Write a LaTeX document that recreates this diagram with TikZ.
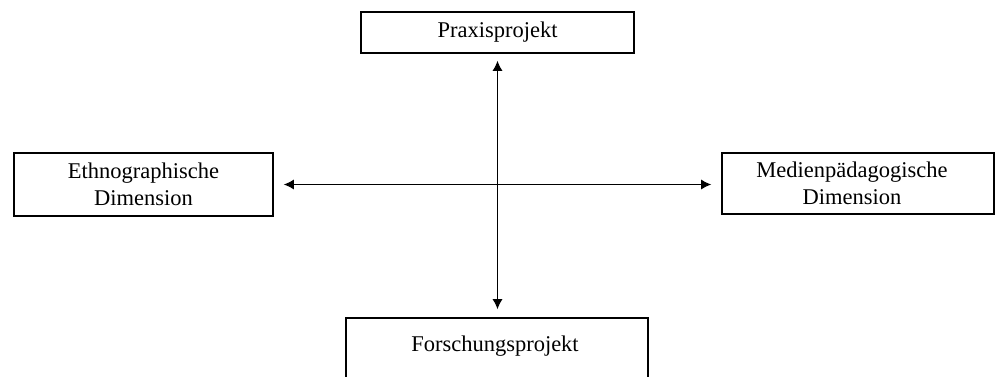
\documentclass[tikz,border=0pt]{standalone}
\usepackage{fontspec}
\setmainfont{Liberation Serif}
\usetikzlibrary{arrows.meta}
\begin{document}
\begin{tikzpicture}[x=1pt,y=-1pt,
  box/.style={draw,line width=1.6pt,rectangle,inner sep=0pt,align=center,
    font=\fontsize{22.5}{27}\selectfont},
  label/.style={inner sep=0pt,align=center,font=\fontsize{22.5}{27}\selectfont},
  link/.style={line width=1pt,{Latex[length=10pt,width=10pt]}-{Latex[length=10pt,width=10pt]}}]
\path[use as bounding box] (0,0) rectangle (995,376);
\clip (0,0) rectangle (995,376);
% the four dimensions
\node[box,minimum width=273pt,minimum height=41pt] (prax) at (497.5,32.5) {Praxisprojekt};
\node[box,minimum width=259pt,minimum height=63pt] (ethno) at (143.5,184.5) {Ethnographische\\Dimension};
\node[box,minimum width=272pt,minimum height=61pt] (medien) at (858,183.5) {};
\node[label] (medientext) at (852,183.5) {Medienpädagogische\\Dimension};
\node[box,minimum width=302pt,minimum height=72pt] (forschbox) at (497,354) {};
\node[label] (forsch) at (495,346) {Forschungsprojekt};
% crossing double arrows
\draw[link,shorten <=7pt,shorten >=8pt] (prax.south) -- (prax.south |- forschbox.north);
\draw[link,shorten <=10pt,shorten >=10pt] (ethno.east) -- (ethno.east -| medien.west);
\end{tikzpicture}
\end{document}
